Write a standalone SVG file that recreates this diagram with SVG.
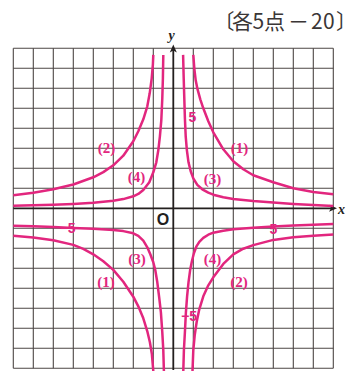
<svg xmlns="http://www.w3.org/2000/svg" width="350" height="371" viewBox="0 0 350 371">
<style>
.grid{fill:none;stroke:#4d4745;stroke-width:1.1}
.axis{fill:none;stroke:#231f1e;stroke-width:1.8}
.curve{fill:none;stroke:#e2267e;stroke-width:2.5;stroke-linejoin:round}
.lbl{font-family:"Liberation Serif",serif;font-weight:bold;font-size:15px;fill:#e2267e;text-anchor:middle}
.num{font-family:"Liberation Sans",Arial,sans-serif;font-weight:bold;font-size:14px;fill:#e2267e}
.ttl{font-family:"Noto Sans CJK JP",sans-serif;font-size:21px;fill:#3a3636;font-feature-settings:"halt"}
</style>
<rect width="350" height="371" fill="#ffffff"/>
<text id="title" class="ttl" x="224 232 252.5 264 288 311 323 336" y="28.5">〔各5点－20〕</text>
<g id="grid">
<path class="grid" d="M13.3 48.3V368.3M33.3 48.3V368.3M53.3 48.3V368.3M73.3 48.3V368.3M93.3 48.3V368.3M113.3 48.3V368.3M133.3 48.3V368.3M153.3 48.3V368.3M193.3 48.3V368.3M213.3 48.3V368.3M233.3 48.3V368.3M253.3 48.3V368.3M273.3 48.3V368.3M293.3 48.3V368.3M313.3 48.3V368.3M333.3 48.3V368.3"/>
<path class="grid" d="M13.3 48.3H333.3M13.3 68.3H333.3M13.3 88.3H333.3M13.3 108.3H333.3M13.3 128.3H333.3M13.3 148.3H333.3M13.3 168.3H333.3M13.3 188.3H333.3M13.3 228.3H333.3M13.3 248.3H333.3M13.3 268.3H333.3M13.3 288.3H333.3M13.3 308.3H333.3M13.3 328.3H333.3M13.3 348.3H333.3M13.3 368.3H333.3"/>
</g>
<g id="axes">
<path class="axis" d="M173.3 370V50M13.3 208.3H331"/>
<polygon points="173.3,44.5 169.8,52.5 173.3,50.5 176.8,52.5" fill="#231f1e"/>
<polygon points="337,208.3 329,204.8 331,208.3 329,211.8" fill="#231f1e"/>
<text x="171.5" y="40" font-family="'Liberation Serif',serif" font-style="italic" font-weight="bold" font-size="14" fill="#231f1e" text-anchor="middle">y</text>
<text x="338" y="213.5" font-family="'Liberation Serif',serif" font-style="italic" font-weight="bold" font-size="14" fill="#231f1e">x</text>
<text x="163" y="225" font-family="'Liberation Sans',Arial,sans-serif" font-weight="bold" font-size="16" fill="#231f1e" text-anchor="middle">O</text>
</g>
<g id="curves">
<path id="c1q1" class="curve" d="M193.3 54.9L194.3 68.3L195.7 80.3L197.3 88.3L200.3 99.3L203.3 108.3L208.3 121.3L213.3 132.3L223.3 149.3L233.3 161.3L243.3 169.3L253.3 175.3L273.3 182.3L293.3 188.3L313.3 191.9L333.3 194.3"/>
<path id="c3q1" class="curve" d="M183.1 54.9L183.7 78.3L184.3 98.3L184.9 118.3L185.7 136.3L186.9 150.3L188.5 162.3L190.7 171.3L193.3 178.3L197.3 184.9L202.3 189.3L208.3 192.7L213.3 194.7L223.3 197.3L233.3 198.9L253.3 201.1L273.3 202.5L293.3 203.9L313.3 204.9L333.3 205.9"/>
<path id="c2q2" class="curve" d="M153.3 54.9L152.9 64.3L151.7 78.3L149.7 93.3L147.3 106.3L143.3 119.3L138.3 131.3L133.3 141.3L123.3 155.7L113.3 165.3L103.3 172.1L93.3 177.3L73.3 184.5L53.3 189.3L33.3 192.7L13.3 195.3"/>
<path id="c4q2" class="curve" d="M163.3 54.9L162.9 78.3L162.3 98.3L161.3 120.3L159.9 136.3L158.3 150.3L156.3 162.3L153.3 172.3L149.3 182.3L143.3 189.9L138.3 193.9L133.3 196.3L123.3 199.1L113.3 200.7L93.3 202.7L73.3 203.9L53.3 204.7L33.3 205.3L13.3 205.7"/>
<path id="c3q3" class="curve" d="M13.3 225.7L33.3 226.3L53.3 227.1L73.3 227.9L93.3 228.7L113.3 229.9L123.3 231.1L133.3 233.3L138.3 235.9L143.3 240.7L147.3 247.3L150.3 254.3L153.3 262.3L155.3 270.3L157.3 282.3L159.3 298.3L160.9 312.3L162.3 332.3L163.3 350.3L163.9 371"/>
<path id="c1q3" class="curve" d="M13.3 235.7L33.3 237.5L53.3 240.3L73.3 244.9L83.3 248.9L93.3 254.3L103.3 261.3L113.3 269.9L123.3 281.7L133.3 296.7L138.3 306.3L143.3 318.3L147.3 331.3L149.9 342.3L151.9 354.3L153.3 371"/>
<path id="c4q4" class="curve" d="M333.3 223.9L293.3 225.5L273.3 226.5L253.3 227.7L233.3 229.3L223.3 230.7L213.3 232.7L208.3 234.7L203.3 237.9L199.3 241.9L196.3 246.7L193.9 253.3L191.9 261.3L190.1 270.3L188.5 282.3L187.1 296.3L185.9 312.3L184.9 332.3L183.9 350.3L183.3 371"/>
<path id="c2q4" class="curve" d="M333.3 234.5L313.3 235.7L293.3 237.3L273.3 239.9L253.3 245.1L243.3 248.7L233.3 254.3L223.3 263.9L213.3 277.3L208.3 285.3L203.3 296.3L199.3 309.3L196.7 321.7L194.7 335.3L193.3 350.3L192.5 371"/>
</g>
<g id="labels">
<text class="lbl" x="239.5" y="152.6">(1)</text>
<text class="lbl" x="212.5" y="183.6">(3)</text>
<text class="lbl" x="106.5" y="152.6">(2)</text>
<text class="lbl" x="136.5" y="181.6">(4)</text>
<text class="lbl" x="137" y="263.6">(3)</text>
<text class="lbl" x="106" y="286.6">(1)</text>
<text class="lbl" x="212.5" y="263.6">(4)</text>
<text class="lbl" x="239" y="286.6">(2)</text>
<text class="num" x="192.3" y="121.7" text-anchor="middle">5</text>
<text class="num" x="273.3" y="234" text-anchor="middle">5</text>
<text class="num" x="75.5" y="233" text-anchor="end">−5</text>
<text class="num" x="197" y="320.5" text-anchor="end">−5</text>
</g>
</svg>
